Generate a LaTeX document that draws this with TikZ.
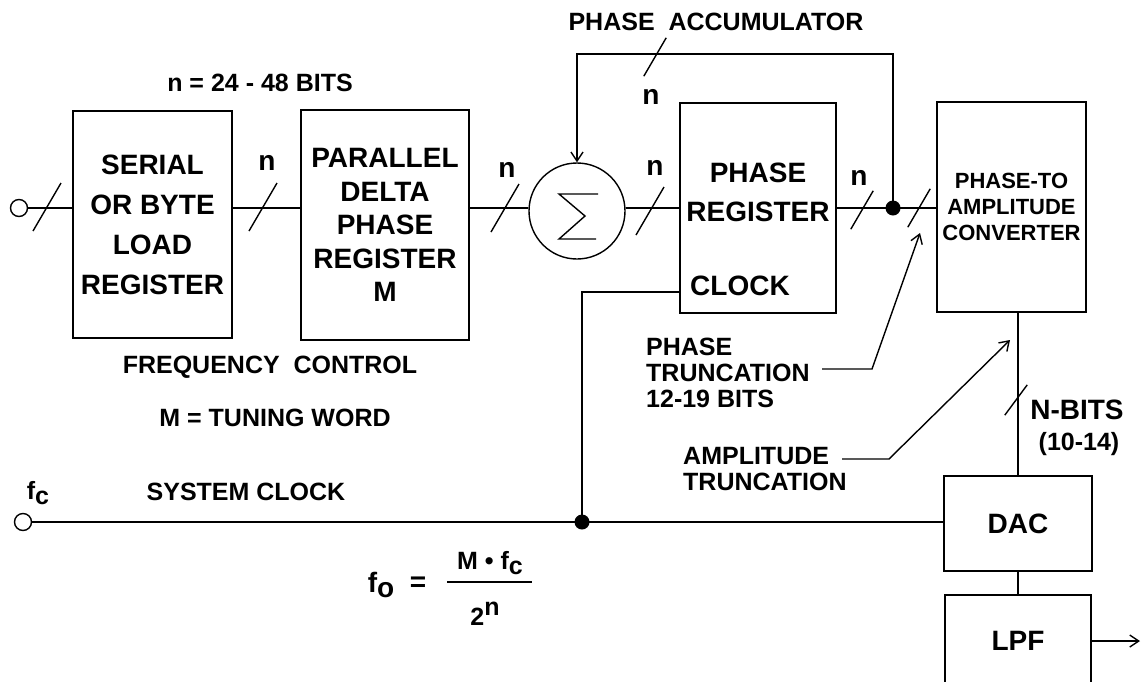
\documentclass[tikz,border=0pt]{standalone}
\usepackage{fontspec}
\setmainfont{Liberation Sans}
\usetikzlibrary{arrows.meta}

\newcommand\sub[1]{\raisebox{-0.2em}{#1}}

\tikzset{
  wire/.style={line width=1.4pt},
  block/.style={draw, wire, inner sep=0pt, align=center, font=\fontsize{28}{40}\selectfont\bfseries},
  lbl/.style={inner sep=0pt, font=\fontsize{25}{26}\selectfont\bfseries},
  bits/.style={inner sep=0pt, font=\fontsize{28}{28}\selectfont\bfseries},
  arr/.style={-{Straight Barb[length=9pt,width=12pt,line width=1.4pt]}},
  jdot/.style={circle, fill, inner sep=0pt, minimum size=15pt},
  port/.style={circle, draw, wire, fill=white, inner sep=0pt, minimum size=17pt},
  bus/.pic={\draw[wire] (-14,24) -- (14,-24);}
}

\begin{document}
\begin{tikzpicture}[x=1pt,y=-1pt]
    \useasboundingbox (0,0) rectangle (1141,681);
    \clip (0,0) rectangle (1141,681);

    % Frequency control
    \node[port] (in) at (19,208) {};
    \node[block, minimum width=159pt, minimum height=227pt] (serial) at (152.5,224.5) {SERIAL\\OR BYTE\\LOAD\\REGISTER};
    \node[block, minimum width=168pt, minimum height=230pt, font=\fontsize{28}{33.5}\selectfont\bfseries] (delta) at (385,225) {PARALLEL\\DELTA\\PHASE\\REGISTER\\M};
    \node[lbl] (nrange) at (260,83) {n = 24 - 48 BITS};
    \node[lbl] (fctrl) at (270,367) {FREQUENCY\ \ CONTROL};
    \node[lbl] (tword) at (275,418) {M = TUNING WORD};

    % Phase accumulator
    \node[draw, circle, wire, inner sep=0pt, minimum size=96pt] (sum) at (577,211) {};
    \begin{scope}[shift={(sum.center)}]
        \draw[wire] (21,-17) -- (-18,-17) -- (8,5) -- (-18,28) -- (19,28);
    \end{scope}
    \node[block, minimum width=156pt, minimum height=210pt] (preg) at (758,208) {};
    \node[block, draw=none, font=\fontsize{28}{39}\selectfont\bfseries] (pregtxt) at (758,192.5) {PHASE\\REGISTER};
    \node[bits, anchor=west] (clk) at (690,286) {CLOCK};
    \node[lbl] (accu) at (716,22) {PHASE\ \ ACCUMULATOR};

    % Amplitude path
    \node[block, minimum width=149pt, minimum height=210pt, font=\fontsize{22}{26}\selectfont\bfseries] (p2a) at (1011.5,207) {PHASE-TO\\AMPLITUDE\\CONVERTER};
    \node[block, minimum width=148pt, minimum height=95pt] (dac) at (1018,523.5) {DAC};
    \node[block, minimum width=146pt, minimum height=92pt] (lpf) at (1018,641) {LPF};
    \node[bits] (nb) at (1077,410) {N-BITS};
    \node[lbl] (nbr) at (1079,444) {(10-14)};

    % Clock
    \node[port] (fc) at (23,522) {};
    \node[lbl] (fclbl) at (38,493) {f\sub{c}};
    \node[lbl] (sysclk) at (246,492) {SYSTEM CLOCK};

    % Truncation notes
    \node[lbl, anchor=west, align=left] (ptrunc) at (646,373) {PHASE\\TRUNCATION\\12-19 BITS};
    \node[lbl, anchor=west, align=left] (atrunc) at (683,469) {AMPLITUDE\\TRUNCATION};

    % Output frequency
    \node[bits] (fo) at (381,585) {f\sub{o}};
    \node[bits] (eq) at (418,584) {=};
    \node[lbl] (num) at (490,563) {M • f\sub{c}};
    \node[lbl] (den) at (485,614) {2\raisebox{0.42em}{n}};
    \coordinate (fl) at (447,582);
    \coordinate (fr) at (532,582);
    \draw[wire] (fl) -- (fr);

    % Bus widths
    \node[bits] (n1) at (267,163) {n};
    \node[bits] (n2) at (507,170) {n};
    \node[bits] (n3) at (655,168) {n};
    \node[bits] (n4) at (859,178) {n};
    \node[bits] (n5) at (651,97) {n};
    \pic at (47,207) {bus};
    \pic at (263,207) {bus};
    \pic at (505,208) {bus};
    \pic at (650,211) {bus};
    \pic[scale=0.8] at (862,210) {bus};
    \pic[scale=0.8] at (919,208) {bus};
    \pic[scale=0.8] at (655,57) {bus};
    \pic[xscale=0.8, yscale=0.63] at (1016,400) {bus};

    % Connections
    \coordinate (acc) at (893,208);
    \coordinate (fbk) at (893,54);
    \coordinate (clkin) at (680,292);
    \coordinate (clkj) at (582,522);
    \coordinate (out) at (1140,641);
    \draw[wire] (in) -- (serial.west |- in);
    \draw[wire] (serial.east |- in) -- (delta.west |- in);
    \draw[wire] (delta.east |- in) -- (sum.west |- in);
    \draw[wire] (sum.east |- in) -- (preg.west |- in);
    \draw[wire] (preg.east |- in) -- (p2a.west |- in);
    \draw[wire, arr] (acc) -- (fbk) -| (sum.north);
    \node[jdot] at (acc) {};
    \draw[wire] (clkin) -| (clkj);
    \draw[wire] (fc) -- (dac.west |- fc);
    \node[jdot] at (clkj) {};
    \draw[wire] (dac.north |- p2a.south) -- (dac.north);
    \draw[wire] (dac) -- (lpf);
    \draw[wire, arr] (lpf.east) -- (out);

    % Truncation leaders
    \coordinate (pl) at (822,369);
    \coordinate (pk) at (872,369);
    \coordinate (ptip) at (920,233);
    \coordinate (al) at (842,459);
    \coordinate (ak) at (889,459);
    \coordinate (atip) at (1010,340);
    \draw[wire, arr] (pl) -- (pk) -- (ptip);
    \draw[wire, arr] (al) -- (ak) -- (atip);
\end{tikzpicture}
\end{document}
